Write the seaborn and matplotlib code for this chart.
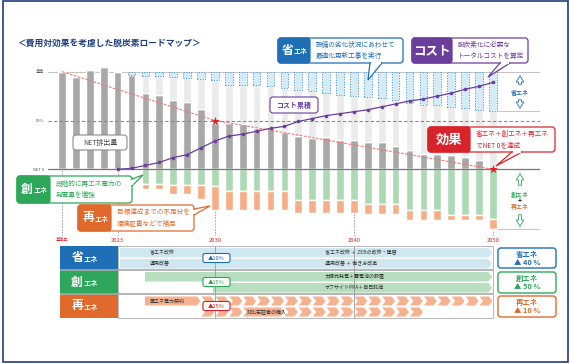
import numpy as np
import matplotlib.pyplot as plt
import seaborn as sns
from matplotlib.patches import FancyBboxPatch, Polygon, Rectangle

# ---- data (% of base-year emissions) ----
years = list(range(2019, 2051))
net = [100, 95, 102, 105, 100, 97, 78, 76, 71, 69, 62,
       47, 47, 46, 42, 42, 38, 34, 32, 33, 30, 30,
       28, 28, 24, 20, 16, 16, 15, 13, 10, 0]
save = [0, 0, 0, 0, 0, 3, 4, 4, 5, 6, 7,
        8, 14, 14, 14, 15, 17, 19, 20, 22, 24, 25,
        26, 27, 29, 32, 34, 34, 36, 37, 39, 40]
create = [0, 0, 0, 0, 0, 0, 15, 15, 16, 16, 16,
          17, 22, 22, 22, 22, 22, 31, 31, 31, 31, 31,
          36, 36, 36, 42, 42, 42, 47, 47, 47, 51]
renew = [0, 0, 0, 0, 0, 0, 5, 5, 9, 9, 14,
         25, 20, 20, 20, 20, 20, 14, 14, 14, 14, 14,
         10, 10, 10, 10, 10, 10, 5, 5, 5, 10]
cost_years = list(range(2023, 2051))
cost = [0, 1, 4, 7, 12, 15, 22,
        29, 34, 36, 39, 42, 44, 49, 52, 55, 57, 59,
        61, 64, 67, 70, 72, 75, 78, 82, 85, 89]
target_years = [2019, 2030, 2050]
target = [100, 50, 0]
tick_years = [2019, 2023, 2030, 2040, 2050]
tick_labels = ['基準年', '2023', '2030', '2040', '2050']
level_ticks = [100, 50, 0]
level_labels = ['基準', '50%', 'NET 0']

goal_names = ['省エネ', '創エネ', '再エネ']
goal_share = [40, 50, 10]
step_2030 = [10, 15, 25]
save_items = [('省エネ改修', '省エネ改修 ＋ ZEBの改修・建替'), ('運用改善', '運用改善 ＋ 働き方改革')]
create_items = ['太陽光発電＋蓄電池の設置', 'オフサイトPPA＋自己託送']
renew_items = ['再エネ電力契約', '非化石証書の購入']

# colours
GRAY = '#a8a8a8'
LIGHT = '#ebebeb'
SKY = '#d5ebf6'
BLUE = '#1f6fb6'
GREEN = '#2fa75a'
ORANGE = '#e06a2b'
PURPLE = '#6b3d9c'
RED = '#d9232a'
NAVY = '#1f3e7c'
GREEN_BAR = '#acd9b4'
ORANGE_BAR = '#f6ae86'

sns.set_theme(style='white')
plt.rcParams['font.family'] = ['Noto Sans CJK JP', 'DejaVu Sans']

fig = plt.figure(figsize=(5.7, 3.64), dpi=100)
L, R, T, B = 48, 540, 60, 236   # pixel box of the chart
PPY, PPP = 13.9, 0.976          # px per year, px per percent
X0, Y0 = 62, 169.3              # pixel of base year / NET 0
ax = fig.add_axes([L / 570, 1 - B / 364, (R - L) / 570, (B - T) / 364])
xmin, xmax = 2019 - (X0 - L) / PPY, 2019 + (R - X0) / PPY
ax.set_xlim(xmin, xmax)
ax.set_ylim(-(B - Y0) / PPP, (Y0 - T) / PPP)
ax.patch.set_alpha(0)


def px(yr):
    return X0 + (yr - 2019) * PPY


def py(v):
    return Y0 - v * PPP


# stacked bars
x = np.array(years)
n, s = np.array(net), np.array(save)
light = np.where(x >= 2024, np.clip(100 - n - s, 0, None), 0)
w = 0.55
ax.axhline(100, color='#c4c4c4', lw=0.8, zorder=0.5)
ax.vlines(tick_years, ax.get_ylim()[0], 0, colors='#9a9a9a', linestyles=(0, (2, 1.5)), lw=0.6, zorder=0.5)
ax.bar(x, n, width=w, color=GRAY, zorder=2)
ax.bar(x, light, bottom=n, width=w, color=LIGHT, zorder=2)
m = s > 0
ax.bar(x[m], s[m], bottom=(n + light)[m], width=w, color=SKY, edgecolor='#3b8fd0',
       linestyle=':', linewidth=0.7, zorder=2)
ax.bar(x, -np.array(create), width=w, color=GREEN_BAR, zorder=2)
ax.bar(x, -np.array(renew), bottom=-np.array(create), width=w, color=ORANGE_BAR, zorder=2)

ax.axhline(50, color='#8a8a8a', lw=0.8, linestyle=(0, (3, 2)), zorder=3)
ax.axhline(0, color='#777777', lw=0.9, zorder=3)
ax.hlines([60, -61], 2050, xmax, color='#c8c8c8', lw=0.8, zorder=1)

sns.lineplot(x=target_years, y=target, ax=ax, color='#f07a7a', lw=0.8,
             linestyle=(0, (2.5, 1.2)), zorder=4)
sns.lineplot(x=cost_years, y=cost, ax=ax, color=PURPLE, lw=0.9, marker='o',
             markersize=2.6, markeredgewidth=0, zorder=5)
ax.scatter([2030, 2050], [50, 0], marker='*', s=45, color=RED, zorder=6, linewidths=0)

ax.set_xticks(tick_years, tick_labels)
ax.set_yticks(level_ticks, level_labels)
ax.tick_params(axis='x', length=0, pad=1.5, labelsize=4.2, labelcolor=RED)
ax.xaxis.get_ticklabels()[0].set_fontsize(3)
ax.tick_params(axis='y', length=2, width=0.6, color='#777777', direction='out',
               labelsize=3, labelcolor='#555555', pad=1)
ax.set_xlabel('')
ax.set_ylabel('')
sns.despine(ax=ax, left=True, bottom=True)

# ---- overlay in pixel coordinates ----
ov = fig.add_axes([0, 0, 1, 1], zorder=5)
ov.set_xlim(0, 570)
ov.set_ylim(364, 0)
ov.axis('off')
ov.patch.set_alpha(0)


def rbox(x0, y0, x1, y1, fc, ec, lw=0.9, r=3, z=7):
    ov.add_patch(FancyBboxPatch((x0, y0), x1 - x0, y1 - y0,
                                boxstyle=f'round,pad=0,rounding_size={r}',
                                fc=fc, ec=ec, lw=lw, zorder=z))


def callout(x0, y0, x1, y1, split, color, tip, base, body):
    rbox(x0, y0, x1, y1, 'white', color)
    rbox(x0, y0, split, y1, color, color)
    ov.add_patch(Rectangle((split - 4, y0), 4, y1 - y0, fc=color, ec='none', zorder=7.1))
    ov.add_patch(Polygon([base[0], tip, base[1]], closed=True, fc='white', ec=color,
                         lw=0.9, zorder=8))
    (ax_, ay_), (bx_, by_) = base
    dx, dy = bx_ - ax_, by_ - ay_
    k = 0.8 / np.hypot(dx, dy)
    ov.plot([ax_ + dx * k, bx_ - dx * k], [ay_ + dy * k, by_ - dy * k], color='white',
            lw=1.7, zorder=8.5, solid_capstyle='butt')
    ov.text(split + 6, (y0 + y1) / 2, body, color=color, fontsize=4.8, va='center',
            ha='left', linespacing=1.6, zorder=9)


def big_small(xc, yc, big, small, size=8.5, small_size=5):
    ov.text(xc, yc, big, fontsize=size, color='white', weight='bold', ha='right', va='center', zorder=9)
    ov.text(xc + 0.5, yc + 1, small, fontsize=small_size, color='white', weight='bold',
            ha='left', va='center', zorder=9)


ov.text(17, 43.5, '＜費用対効果を考慮した脱炭素ロードマップ＞', fontsize=6.3, weight='bold', color=NAVY, va='center')
ov.add_patch(Rectangle((3, 0.6), 565, 361.8, fc='none', ec=NAVY, lw=1.2, zorder=10))

callout(278, 38, 403, 63, 310, BLUE, (368, 80), ((370, 63), (382, 63)),
        '設備の劣化状況にあわせて\n最適化更新工事を実行')
big_small(293, 50.5, '省', 'エネ')
callout(412, 38, 528, 63, 452, PURPLE, (488, 77), ((500, 63), (510, 63)),
        '脱炭素化に必要な\nトータルコストを算定')
ov.text(432, 50.5, 'コスト', fontsize=9, color='white', weight='bold', ha='center', va='center', zorder=9)
callout(428, 127, 555, 152, 470, RED, (496, 166), ((512, 152), (522, 152)),
        '省エネ＋創エネ＋再エネ\nでNET 0を達成')
ov.text(449, 139.5, '効果', fontsize=9.5, color='white', weight='bold', ha='center', va='center', zorder=9)
callout(17, 176, 132, 203, 50, GREEN, (143, 175), ((132, 179), (132, 186)),
        '段階的に再エネ電力の\n発電量を増強')
big_small(33, 189.5, '創', 'エネ')
callout(78, 205, 194, 231, 111, ORANGE, (210, 206), ((194, 209), (194, 215)),
        '目標達成までの不足分を\n環境証書などで補足')
big_small(94, 218, '再', 'エネ')

rbox(73, 135, 127, 150, 'white', '#8c8c8c', lw=0.8)
ov.text(100, 142.5, 'NET排出量', fontsize=5, color='#444444', ha='center', va='center', zorder=9)
rbox(270, 97, 318, 113, 'white', PURPLE, lw=0.8)
ov.text(294, 105, 'コスト累積', fontsize=5, color=PURPLE, weight='bold', ha='center', va='center', zorder=9)

# right-hand arrows
arrow = dict(arrowstyle='simple,head_width=0.55,head_length=0.45,tail_width=0.22',
             lw=0.6, mutation_scale=10)
for y_from, y_to, c in [(87, 73, BLUE), (97, 111, BLUE), (188, 171, GREEN), (212, 229, GREEN)]:
    ov.annotate('', xy=(520, y_to), xytext=(520, y_from),
                arrowprops=dict(arrow, fc='white', ec=c), zorder=8)
ov.text(520, 92, '省エネ', fontsize=4.3, color=BLUE, weight='bold', ha='center', va='center')
ov.text(520, 194, '創エネ', fontsize=4.3, color=GREEN, weight='bold', ha='center', va='center')
ov.text(520, 200.5, '+', fontsize=5, color='#222222', weight='bold', ha='center', va='center')
ov.text(520, 207, '再エネ', fontsize=4.3, color=ORANGE, weight='bold', ha='center', va='center')

# ---- roadmap table ----
rows_y = [246, 270, 294, 318]
head_colors = [BLUE, GREEN, ORANGE]
band_colors = ['#cfe7f0', '#b7dfbf', '#f6b28f']
ov.add_patch(Rectangle((118, 246), 375, 72, fc='white', ec='#bbbbbb', lw=0.8, zorder=2))
for i, (name, c) in enumerate(zip(goal_names, head_colors)):
    y0, y1 = rows_y[i], rows_y[i + 1]
    ov.add_patch(Rectangle((60, y0 + 0.4), 58, y1 - y0 - 0.8, fc=c, ec='none', zorder=3))
    big_small(83, (y0 + y1) / 2, name[0], name[1:], size=8.5, small_size=5.2)
ov.hlines(rows_y[1:3], 60, 493, color='#a8a8a8', lw=1.2, zorder=3)
ov.vlines([px(2030), px(2040)], 246, 318, color='#9a9a9a', lw=0.6, zorder=4)


def band(x0, x1, y0, y1, c, notch=0):
    mid = (y0 + y1) / 2
    ov.add_patch(Polygon([(x0, y0), (x1 - 3.5, y0), (x1, mid), (x1 - 3.5, y1), (x0, y1),
                          (x0 + notch, mid)], closed=True, fc=c, ec='none', zorder=3))


TXT = dict(fontsize=3.6, color='#333333', va='center', ha='left', zorder=5)
for (early, late), (y0, y1) in zip(save_items, [(248, 257.5), (259, 268.5)]):
    band(120, 492, y0, y1, band_colors[0])
    ov.text(150, (y0 + y1) / 2, early, **TXT)
    ov.text(325, (y0 + y1) / 2, late, **TXT)
band(145, 492, 272, 281.5, band_colors[1])
band(213, 492, 283, 292.5, band_colors[1])
ov.text(325, 276.75, create_items[0], **TXT)
ov.text(325, 287.75, create_items[1], **TXT)

top, bot = (296.5, 305.5), (307.5, 316.5)
band(145, px(2029) - 0.5, *top, band_colors[2])
ov.text(150, sum(top) / 2, renew_items[0], **TXT)
for yr in range(2030, 2051):
    band(px(yr - 1) + 0.5, px(yr) - 0.5, *top, band_colors[2], notch=3.5)
for yr in list(range(2030, 2033)) + list(range(2036, 2046)):
    band(px(yr - 1) + 0.5, px(yr) - 0.5, *bot, band_colors[2], notch=3.5)
band(px(2032) + 0.5, px(2035) - 0.5, *bot, band_colors[2], notch=3.5)
ov.text(px(2032) + 4, sum(bot) / 2, renew_items[1], **TXT)

for i, (v, c) in enumerate(zip(step_2030, [BLUE, GREEN, RED])):
    yc = (rows_y[i] + rows_y[i + 1]) / 2
    rbox(203, yc - 4.5, 230, yc + 4.5, 'white', c, lw=0.8, r=2, z=6)
    ov.text(216.5, yc, f'▲{v}%', fontsize=4, color=c, ha='center', va='center', zorder=7)

# summary boxes on the right
for (y0, y1), name, v, c in zip([(248, 268), (272, 293), (296, 317)], goal_names, goal_share, head_colors):
    rbox(498, y0, 556, y1, 'white', c, lw=1.0, r=3, z=6)
    ov.text(527, y0 + 6.5, name, fontsize=5.3, color=c, weight='bold', ha='center', va='center', zorder=7)
    ov.text(527, y0 + 14.5, f'▲ {v} %', fontsize=5.3, color=c, weight='bold', ha='center', va='center', zorder=7)

fig.savefig('out.png', dpi=100)
